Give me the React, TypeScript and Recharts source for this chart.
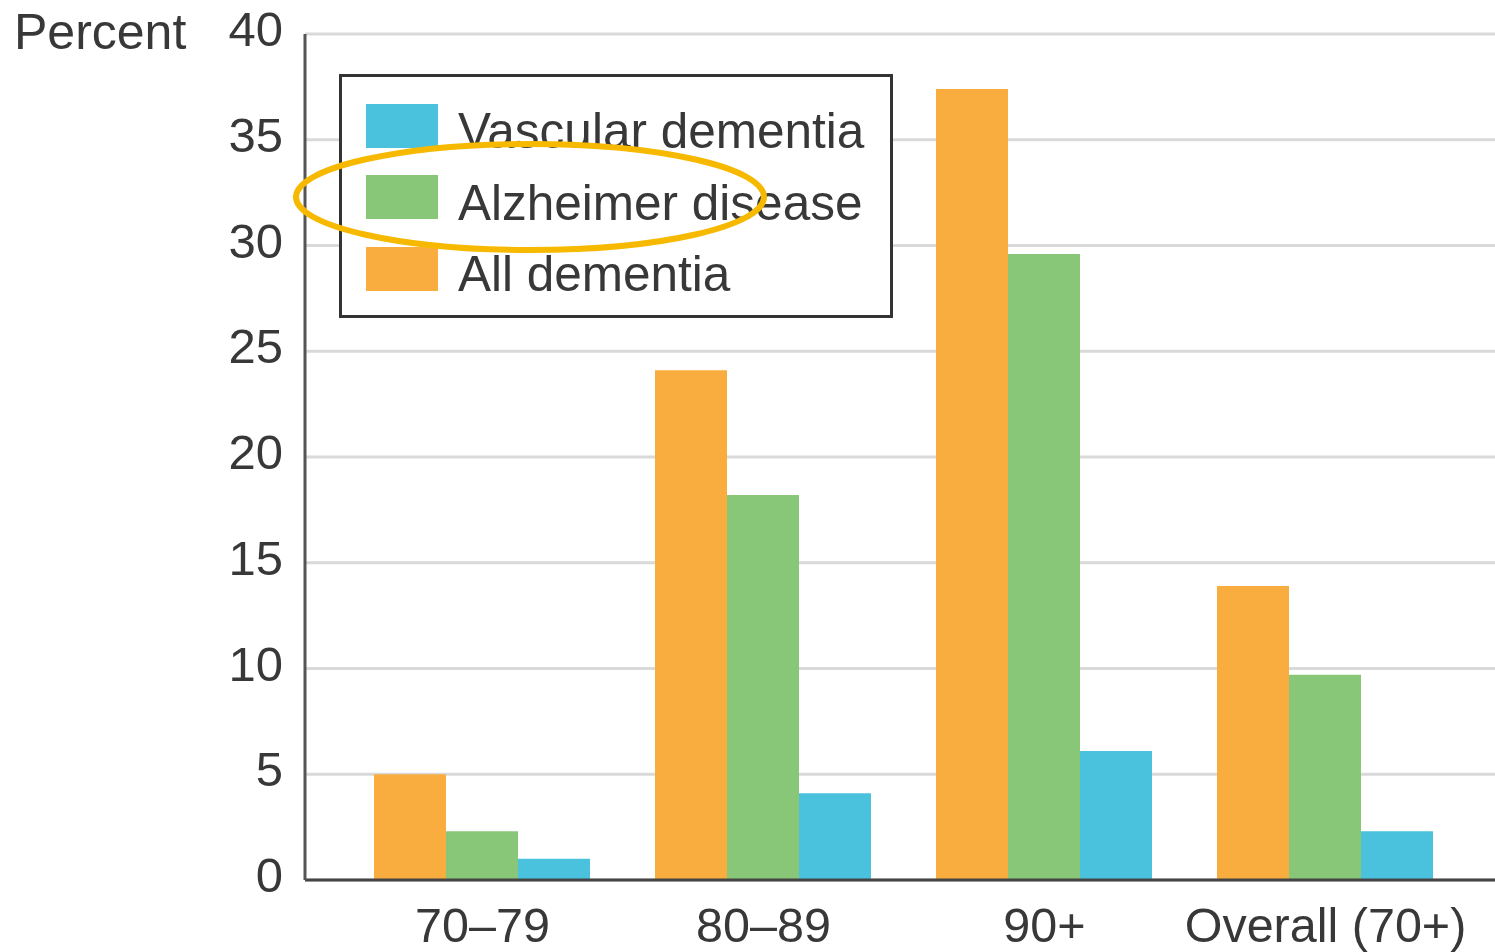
import { Bar, BarChart, CartesianGrid, Legend, XAxis, YAxis } from 'recharts';

const ageGroups = ['70–79', '80–89', '90+', 'Overall (70+)'];
const allDementia = [5.0, 24.1, 37.4, 13.9];
const alzheimer = [2.3, 18.2, 29.6, 9.7];
const vascular = [1.0, 4.1, 6.1, 2.3];
const yTicks = [0, 5, 10, 15, 20, 25, 30, 35, 40];

const series = [
  { key: 'all', name: 'All dementia', color: '#F9AD3F' },
  { key: 'alz', name: 'Alzheimer disease', color: '#88C777' },
  { key: 'vasc', name: 'Vascular dementia', color: '#4AC2DD' },
];

const data = ageGroups.map((group, i) => ({
  group,
  all: allDementia[i],
  alz: alzheimer[i],
  vasc: vascular[i],
}));

const FONT = '"Liberation Sans", Arial, sans-serif';
const TEXT = '#383838';

const LegendBox = () => (
  <div
    style={{
      boxSizing: 'border-box',
      width: 554,
      height: 244,
      border: '3px solid #333',
      background: '#fff',
      padding: '27px 0 0 24px',
      fontFamily: FONT,
    }}
  >
    {[...series].reverse().map((s) => (
      <div key={s.key} style={{ display: 'flex', alignItems: 'center', height: 71.5 }}>
        <div style={{ width: 72, height: 44, background: s.color, marginRight: 20, marginTop: -28 }} />
        <span style={{ fontSize: 49.5, color: TEXT, marginTop: -18, lineHeight: 1 }}>{s.name}</span>
      </div>
    ))}
  </div>
);

const YTick = ({ x, y, payload }: any) => (
  <text x={x} y={y} dy={12} textAnchor="end" fill={TEXT} fontSize={49} fontFamily={FONT}>
    {payload.value}
  </text>
);

export default function App() {
  return (
    <div style={{ position: 'absolute', left: 0, top: 0, width: 1495, height: 952, background: '#fff' }}>
      <div
        style={{
          position: 'absolute',
          left: 14,
          top: 7,
          fontFamily: FONT,
          fontSize: 50,
          color: TEXT,
          lineHeight: 1,
        }}
      >
        Percent
      </div>
      <BarChart
        width={1495}
        height={952}
        data={data}
        margin={{ top: 34, right: 0, bottom: 0, left: 0 }}
        barCategoryGap={32}
        barGap={0}
      >
        <CartesianGrid vertical={false} stroke="#d9d9d9" strokeWidth={3} />
        <XAxis
          dataKey="group"
          height={72}
          padding={{ left: 37, right: 29 }}
          tickLine={false}
          tickSize={0}
          tickMargin={28}
          axisLine={{ stroke: '#444', strokeWidth: 3 }}
          tick={{ fill: TEXT, fontSize: 48.5, fontFamily: FONT }}
        />
        <YAxis
          width={305}
          domain={[0, 40]}
          ticks={yTicks}
          interval={0}
          tickLine={false}
          tickSize={0}
          tickMargin={22}
          axisLine={{ stroke: '#555', strokeWidth: 3 }}
          tick={<YTick />}
        />
        <Legend
          layout="vertical"
          align="center"
          verticalAlign="middle"
          content={() => <LegendBox />}
          wrapperStyle={{ position: 'absolute', left: 339, top: 74, width: 554, height: 244 }}
        />
        {series.map((s) => (
          <Bar key={s.key} dataKey={s.key} name={s.name} fill={s.color} isAnimationActive={false} />
        ))}
      </BarChart>
      <svg
        width={1495}
        height={952}
        style={{ position: 'absolute', left: 0, top: 0, pointerEvents: 'none', zIndex: 10 }}
      >
        <ellipse cx={530} cy={197} rx={234} ry={53} fill="none" stroke="#F7B900" strokeWidth={6} />
      </svg>
    </div>
  );
}
